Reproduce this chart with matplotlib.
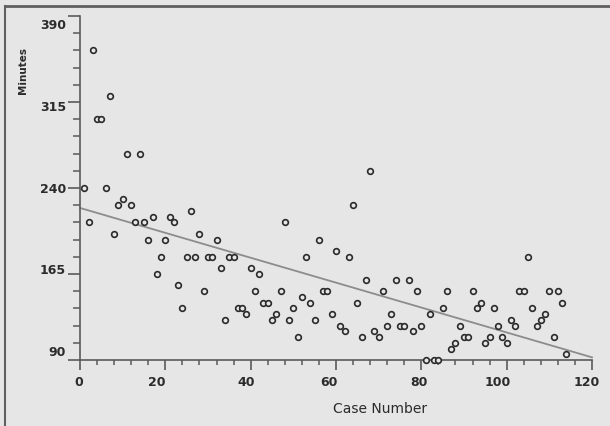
"""
Scatter of minutes per case with a fitted trend line.
"""

import matplotlib
matplotlib.use("Agg")
import matplotlib.pyplot as plt
import matplotlib.transforms as mtransforms
from matplotlib.lines import Line2D
import numpy as np

# case numbers 1..114, minutes
case_number = list(range(1, 115))
minutes = [
    240, 210, 360, 300, 300, 240, 320, 200, 225, 230,
    270, 225, 210, 270, 210, 195, 215, 165, 180, 195,
    215, 210, 155, 135, 180, 220, 180, 200, 150, 180,
    180, 195, 170, 125, 180, 180, 135, 135, 130, 170,
    150, 165, 140, 140, 125, 130, 150, 210, 125, 135,
    110, 145, 180, 140, 125, 195, 150, 150, 130, 185,
    120, 115, 180, 225, 140, 110, 160, 255, 115, 110,
    150, 120, 130, 160, 120, 120, 160, 115, 150, 120,
    90, 130, 90, 90, 135, 150, 100, 105, 120, 110,
    110, 150, 135, 140, 105, 110, 135, 120, 110, 105,
    125, 120, 150, 150, 180, 135, 120, 125, 130, 150,
    110, 150, 140, 95,
]

x_ticks = [0, 20, 40, 60, 80, 100, 120]
y_ticks = [90, 165, 240, 315, 390]

BG = "#e6e6e6"
INK = "#2b2b2b"
AXIS = "#5a5a5a"

fig = plt.figure(figsize=(6.1, 4.26), dpi=100)
fig.patch.set_facecolor(BG)
ax = fig.add_axes([80 / 610, 66 / 426, 512 / 610, 344 / 426])
ax.set_facecolor(BG)

# scanned frame: top and left edges only
fig.add_artist(Line2D([5 / 610, 1], [1 - 6 / 426, 1 - 6 / 426],
                      transform=fig.transFigure, color="#606060", lw=2))
fig.add_artist(Line2D([5 / 610, 5 / 610], [0, 1 - 6 / 426],
                      transform=fig.transFigure, color="#606060", lw=1.5))

x = np.array(case_number, dtype=float)
y = np.array(minutes, dtype=float)
slope, intercept = np.polyfit(x, y, 1)
xl = np.array([0, 120])
ax.plot(xl, intercept + slope * xl, color="#8c8c8c", lw=1.3, zorder=2,
        clip_on=False)

ax.plot(x, y, linestyle="none", marker="o", markersize=4.1,
        markerfacecolor=BG, markeredgecolor="#2a2a2a", markeredgewidth=1.2,
        zorder=3, clip_on=False)

ax.set_xlim(0, 120)
ax.set_ylim(90, 390)

for side in ("top", "right"):
    ax.spines[side].set_visible(False)
for side in ("left", "bottom"):
    ax.spines[side].set_color(AXIS)
    ax.spines[side].set_linewidth(1.2)

ax.set_xticks(x_ticks, [str(t) for t in x_ticks])
ax.set_xticks(np.arange(0, 121, 4), minor=True)
ax.set_yticks(y_ticks, [str(t) for t in y_ticks])
ax.set_yticks(np.arange(90, 391, 15), minor=True)

ax.tick_params(axis="x", which="major", length=7.2, width=1.2, color=AXIS,
               pad=4.5, labelsize=9, labelcolor=INK)
ax.tick_params(axis="x", which="minor", length=3.6, width=1.1, color=AXIS)
ax.tick_params(axis="y", which="major", length=8.6, width=1.2, color=AXIS,
               pad=1.5, labelsize=9, labelcolor=INK)
ax.tick_params(axis="y", which="minor", length=5, width=1.1, color=AXIS)

for lab in ax.get_xticklabels() + ax.get_yticklabels():
    lab.set_fontweight("bold")

# labels in the source sit a little off their ticks
x_shift = [-1.3, -8.6, -4.0, -6.7, -2.3, -9.3, -5.7]
for lab, dx in zip(ax.get_xticklabels(), x_shift):
    lab.set_transform(lab.get_transform() +
                      mtransforms.ScaledTranslation(dx / 100, 0, fig.dpi_scale_trans))
y_shift = [9, 4.5, 0, -4.3, -8.3]
for lab, dy in zip(ax.get_yticklabels(), y_shift):
    lab.set_transform(lab.get_transform() +
                      mtransforms.ScaledTranslation(0, dy / 100, fig.dpi_scale_trans))

ax.set_xlabel("Case Number", fontsize=10, color=INK)
ax.xaxis.set_label_coords(0.587, -0.142)
ax.xaxis.label.set_va("center")
ax.set_ylabel("Minutes", fontsize=7.5, fontweight="bold", color=INK)
ax.yaxis.set_label_coords(-0.111, 0.842)
ax.yaxis.label.set_va("center")

fig.savefig("out.png", dpi=100, facecolor=fig.get_facecolor())
